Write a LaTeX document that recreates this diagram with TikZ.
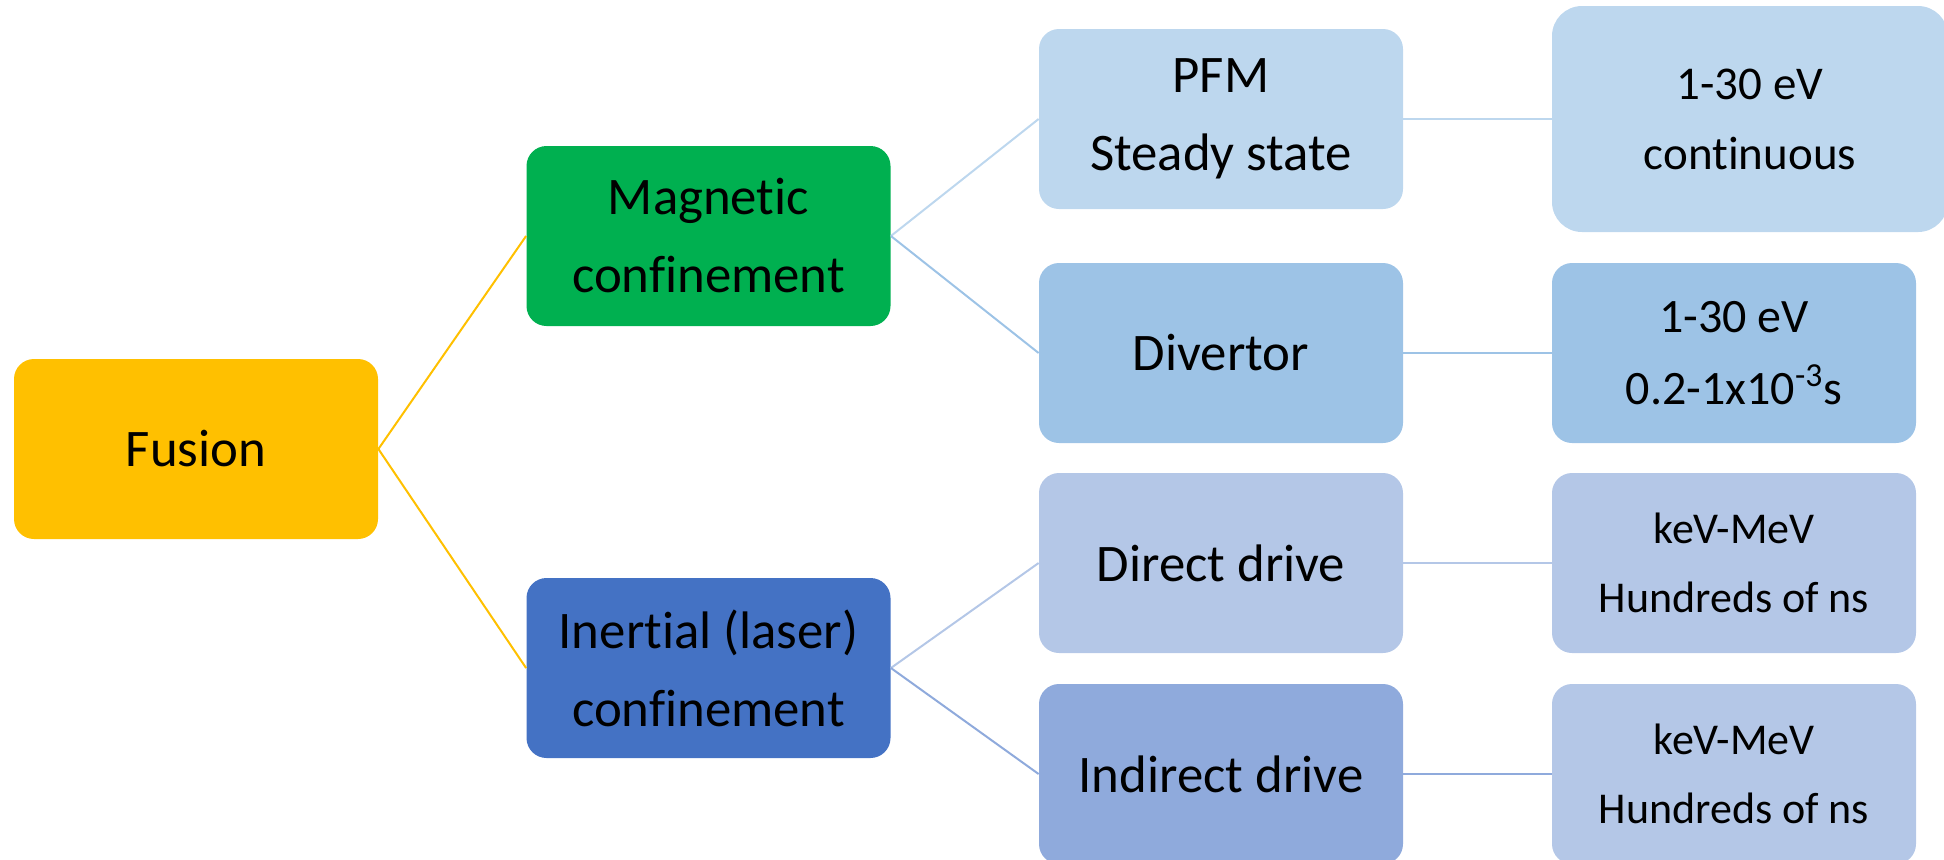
\documentclass[tikz,border=0pt]{standalone}
\usepackage{fontspec}
\setmainfont{Carlito}[Ligatures=NoCommon]
\definecolor{cFusion}{HTML}{FFC000}
\definecolor{cMag}{HTML}{00B050}
\definecolor{cIne}{HTML}{4472C4}
\definecolor{cPFM}{HTML}{BDD7EE}
\definecolor{cDiv}{HTML}{9DC3E6}
\definecolor{cDir}{HTML}{B4C7E7}
\definecolor{cInd}{HTML}{8FAADC}
\tikzset{
  box/.style={rounded corners=10pt, inner sep=0pt, align=center, text=black,
    minimum width=182pt, minimum height=90pt,
    font=\fontsize{26.4}{39}\selectfont},
  valbox/.style={box, font=\fontsize{22}{34.5}\selectfont},
  link/.style={line width=1pt}
}
\begin{document}
\begin{tikzpicture}[x=0.5pt,y=-0.5pt]
\useasboundingbox (0,0) rectangle (1944,859);
% level 0
\node[box, fill=cFusion] (fus) at (196,449) {Fusion};
% level 1
\node[box, fill=cMag] (mag) at (708.5,236) {Magnetic\\confinement};
\node[box, fill=cIne] (ine) at (708.5,668) {Inertial (laser)\\confinement};
% level 2
\node[box, fill=cPFM] (pfm) at (1221,119) {PFM\\Steady state};
\node[box, fill=cDiv] (div) at (1221,353) {Divertor};
\node[box, fill=cDir] (dir) at (1221,563) {Direct drive};
\node[box, fill=cInd] (ind) at (1221,774) {Indirect drive};
% level 3
\node[box, fill=cPFM, rounded corners=15pt, minimum width=198pt, minimum height=113pt,
  font=\fontsize{23.5}{35}\selectfont] (pfmv) at (1750,119) {1-30 eV\\continuous};
\node[valbox, fill=cDiv, font=\fontsize{24}{36}\selectfont] (divv) at (1734,353) {1-30 eV\\0.2-1x10\textsuperscript{-3}s};
\node[valbox, fill=cDir] (dirv) at (1734,563) {keV-MeV\\Hundreds of ns};
\node[valbox, fill=cDir] (indv) at (1734,774) {keV-MeV\\Hundreds of ns};
% connectors
\draw[link, cFusion] (mag.west) -- (fus.east) -- (ine.west);
\draw[link, cPFM] (mag.east) -- (pfm.west);
\draw[link, cDiv] (mag.east) -- (div.west);
\draw[link, cDir] (ine.east) -- (dir.west);
\draw[link, cInd] (ine.east) -- (ind.west);
\draw[link, cPFM] (pfm.east) -- (pfmv.west);
\draw[link, cDiv] (div.east) -- (divv.west);
\draw[link, cDir] (dir.east) -- (dirv.west);
\draw[link, cInd] (ind.east) -- (indv.west);
\end{tikzpicture}
\end{document}
